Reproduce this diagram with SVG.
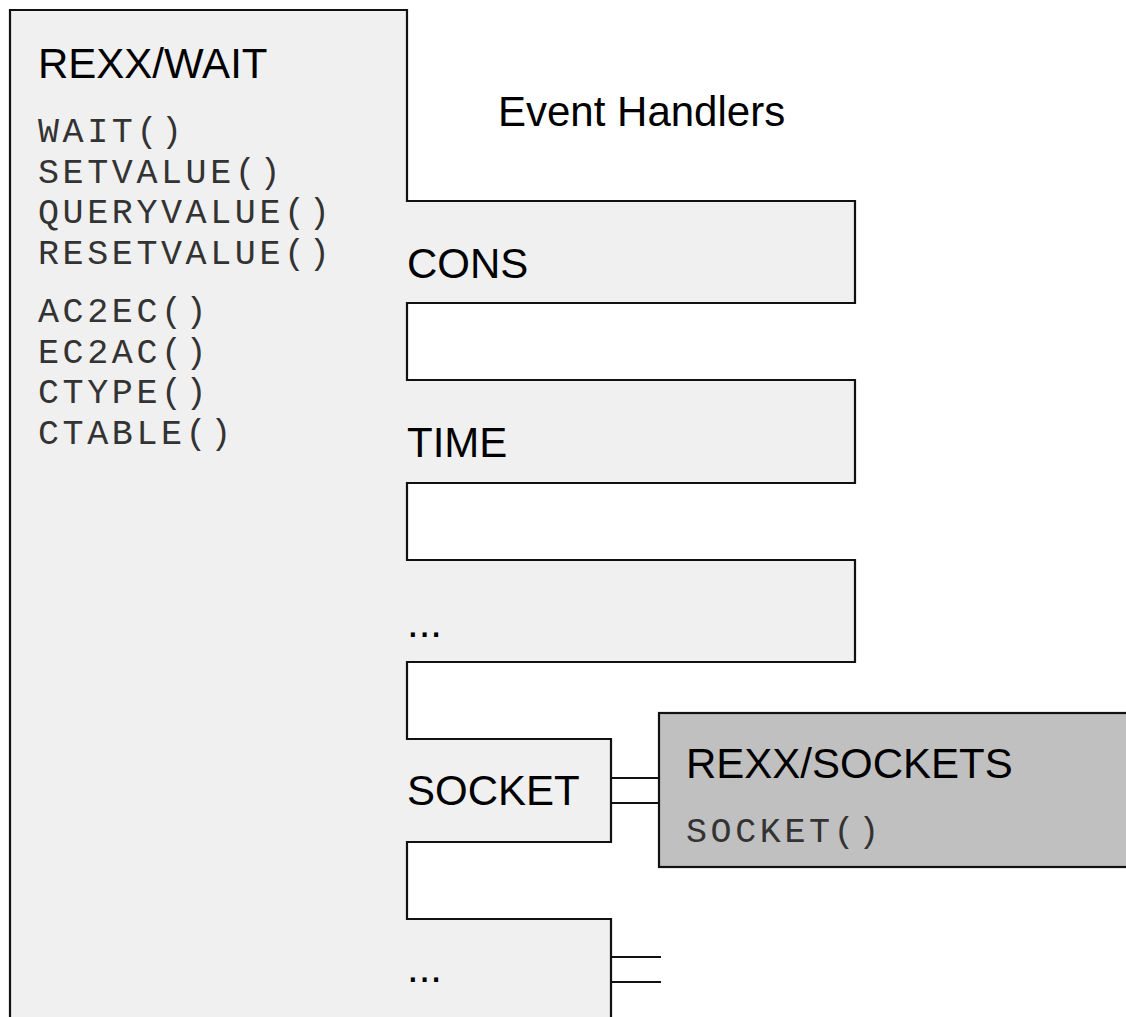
<svg xmlns="http://www.w3.org/2000/svg" width="1126" height="1017" viewBox="0 0 1126 1017">
  <style>
    .outline { fill: #f0f0f0; stroke: #111; stroke-width: 2.2; stroke-linejoin: miter; }
    .lib { fill: #c0c0c0; stroke: #111; stroke-width: 2.2; }
    .title { font-family: "Liberation Sans", Arial, sans-serif; font-size: 42px; fill: #000; }
    .fn { font-family: "Liberation Mono", "Courier New", monospace; font-size: 35px; letter-spacing: 3.6px; fill: #333; }
    .link { stroke: #111; stroke-width: 2.2; fill: none; }
  </style>

  <rect width="1126" height="1017" fill="#fff"/>

  <!-- REXX/WAIT core with its event handler tabs -->
  <g id="rexx-wait">
    <path class="outline" d="M10,10 H407 V201 H855 V303 H407 V380 H855 V483 H407 V560 H855 V662 H407 V739 H611 V842 H407 V919 H611 V1030 H10 Z"/>
    <text class="title" x="38" y="78">REXX/WAIT</text>
    <text class="fn" x="38" y="142">WAIT()</text>
    <text class="fn" x="38" y="183">SETVALUE()</text>
    <text class="fn" x="38" y="223">QUERYVALUE()</text>
    <text class="fn" x="38" y="264">RESETVALUE()</text>
    <text class="fn" x="38" y="322">AC2EC()</text>
    <text class="fn" x="38" y="363">EC2AC()</text>
    <text class="fn" x="38" y="403">CTYPE()</text>
    <text class="fn" x="38" y="444">CTABLE()</text>
  </g>

  <g id="event-handlers-label">
    <text class="title" x="498" y="126">Event Handlers</text>
  </g>

  <g id="handler-cons">
    <text class="title" x="407" y="278">CONS</text>
  </g>
  <g id="handler-time">
    <text class="title" x="407" y="457">TIME</text>
  </g>
  <g id="handler-more">
    <text class="title" x="407" y="637">...</text>
  </g>
  <g id="handler-socket">
    <text class="title" x="407" y="805">SOCKET</text>
  </g>
  <g id="handler-other">
    <text class="title" x="407" y="982">...</text>
  </g>

  <!-- REXX/SOCKETS library -->
  <g id="rexx-sockets">
    <rect class="lib" x="659" y="713" width="470" height="154"/>
    <text class="title" x="686" y="778">REXX/SOCKETS</text>
    <text class="fn" x="686" y="842">SOCKET()</text>
  </g>

  <!-- handler-to-library links -->
  <g id="connectors">
    <line class="link" x1="611" y1="778" x2="659" y2="778"/>
    <line class="link" x1="611" y1="803" x2="659" y2="803"/>
    <line class="link" x1="611" y1="957" x2="661" y2="957"/>
    <line class="link" x1="611" y1="982" x2="661" y2="982"/>
  </g>
</svg>
